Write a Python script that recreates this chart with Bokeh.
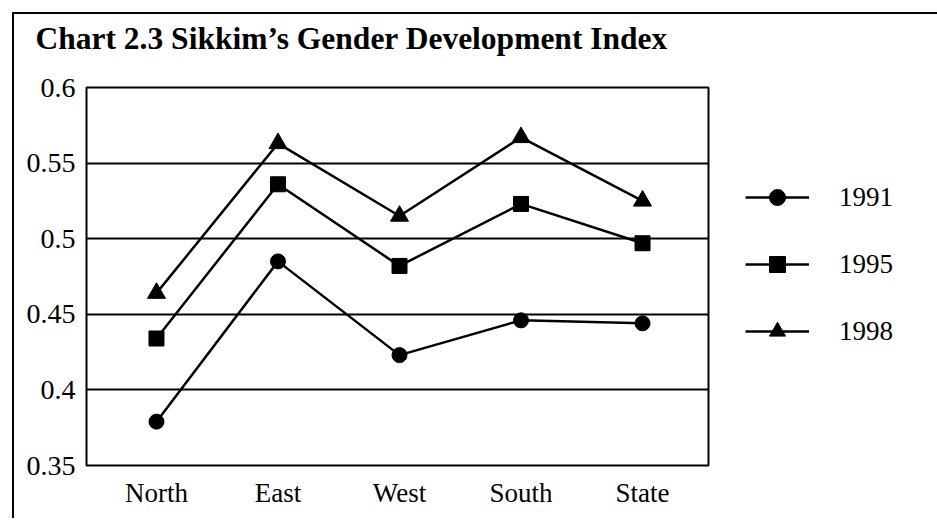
from bokeh.plotting import figure
from bokeh.layouts import row
from bokeh.models import (Range1d, FixedTicker, NumeralTickFormatter, Legend,
                          LegendItem, Title)
from bokeh.embed import file_html
from bokeh.resources import INLINE

# ---- data ----
categories = ["North", "East", "West", "South", "State"]
years = ["1991", "1995", "1998"]
gdi_1991 = [0.379, 0.485, 0.423, 0.446, 0.444]
gdi_1995 = [0.434, 0.536, 0.482, 0.523, 0.497]
gdi_1998 = [0.464, 0.563, 0.515, 0.567, 0.525]
y_ticks = [0.35, 0.4, 0.45, 0.5, 0.55, 0.6]
title_text = "Chart 2.3 Sikkim\u2019s Gender Development Index"

x_pos = list(range(len(categories)))
series = [gdi_1991, gdi_1995, gdi_1998]
markers = ["circle", "square", "triangle"]
sizes = [15, 15, 18]

FONT = "Liberation Serif"
H = 504
W1 = 698            # main chart canvas
W2 = 225            # legend canvas
FL, FT = 72, 73
FR = W1 - 694
FB = H - 451

p = figure(width=W1, height=H, output_backend="svg", toolbar_location=None,
           title=None,
           x_range=Range1d(-0.576, 4.543), y_range=Range1d(y_ticks[0], y_ticks[-1]),
           min_border_left=FL, min_border_right=FR,
           min_border_top=FT, min_border_bottom=FB)
p.background_fill_color = "white"
p.border_fill_color = "white"
p.outline_line_color = "black"
p.outline_line_width = 2
p.outline_line_alpha = 1

# axes
p.xaxis.ticker = FixedTicker(ticks=x_pos)
p.xaxis.major_label_overrides = {i: c for i, c in zip(x_pos, categories)}
p.yaxis.ticker = FixedTicker(ticks=y_ticks)
p.yaxis.formatter = NumeralTickFormatter(format="0.[00]")
for ax in (p.xaxis, p.yaxis):
    ax.axis_line_color = None
    ax.major_tick_line_color = None
    ax.minor_tick_line_color = None
    ax.major_label_text_font = FONT
    ax.major_label_text_color = "black"
p.yaxis.major_label_text_font_size = "28px"
p.xaxis.major_label_text_font_size = "27px"
p.xaxis.major_label_standoff = 6
p.yaxis.major_label_standoff = 5

# grid
p.xgrid.grid_line_color = None
p.ygrid.ticker = FixedTicker(ticks=y_ticks)
p.ygrid.grid_line_color = "black"
p.ygrid.grid_line_width = 1.8
p.ygrid.grid_line_alpha = 1

for vals, m, s in zip(series, markers, sizes):
    p.line(x_pos, vals, line_color="black", line_width=2.5)
    p.scatter(x_pos, vals, marker=m, size=s, fill_color="black",
              line_color="black")

# title
p.add_layout(Title(text=title_text, align="left", offset=-51, standoff=0,
                   padding=dict(left=0, right=0, top=0, bottom=32),
                   text_font=FONT, text_font_style="bold",
                   text_font_size="31.5px", text_color="black"), "above")

# ---- legend panel (its ranges keep the series themselves out of view) ----
pl = figure(width=W2, height=H, output_backend="svg", toolbar_location=None,
            title=None, x_range=Range1d(100, 101), y_range=Range1d(100, 101),
            x_axis_type=None, y_axis_type=None, min_border=0)
pl.outline_line_color = None
pl.background_fill_color = "white"
pl.border_fill_color = "white"

items = []
for yr, vals, m in zip(years, series, markers):
    rl = pl.line(x_pos, vals, line_color="black", line_width=2.5)
    rm = pl.scatter(x_pos, vals, marker=m, fill_color="black", line_color="black")
    items.append(LegendItem(label=yr, renderers=[rl, rm]))

legend = Legend(items=items, location=(33, 114), orientation="vertical",
                glyph_width=64, glyph_height=40, label_height=40, spacing=27,
                label_standoff=30, padding=0, margin=0,
                border_line_color=None, background_fill_alpha=0,
                label_text_font=FONT, label_text_font_size="27px",
                label_text_color="black")
pl.add_layout(legend)

lay = row(p, pl)
lay.styles = {"margin-left": "12px", "margin-top": "12px",
              "border-left": "2px solid black", "border-top": "2px solid black"}

open("out.html", "w").write(file_html(lay, INLINE))
